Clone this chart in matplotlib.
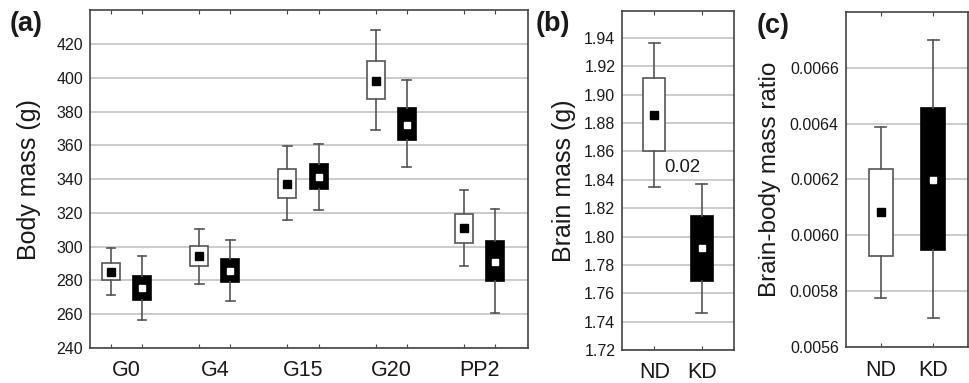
import numpy as np
import matplotlib
matplotlib.use('Agg')
import matplotlib.pyplot as plt

plt.rcParams['font.family'] = ['Liberation Sans', 'DejaVu Sans']

# (a) body mass per stage: ND (white) and KD (black)
stages = ['G0', 'G4', 'G15', 'G20', 'PP2']
nd_whislo = [271.5, 278.0, 315.7, 369.3, 288.8]
nd_q1     = [280.1, 288.4, 329.1, 387.6, 302.4]
nd_mean   = [285.2, 294.5, 337.2, 398.4, 310.8]
nd_q3     = [290.4, 300.6, 346.0, 410.0, 319.5]
nd_whishi = [299.0, 310.6, 359.8, 428.5, 333.6]
kd_whislo = [256.7, 268.1, 322.0, 347.4, 260.5]
kd_q1     = [268.5, 279.0, 334.2, 363.0, 279.9]
kd_mean   = [275.4, 285.8, 341.1, 372.2, 291.0]
kd_q3     = [282.7, 292.5, 348.8, 382.0, 303.5]
kd_whishi = [294.3, 303.7, 360.8, 398.6, 322.6]

# (b) brain mass, (c) brain/body ratio: [ND, KD]
diets = ['ND', 'KD']
brain_whislo = [1.8351, 1.7459]
brain_q1     = [1.8602, 1.7685]
brain_mean   = [1.8856, 1.7918]
brain_q3     = [1.9118, 1.8146]
brain_whishi = [1.9367, 1.8372]
brain_p = '0.02'
ratio_whislo = [0.005775, 0.005704]
ratio_q1     = [0.005927, 0.005948]
ratio_mean   = [0.006083, 0.006197]
ratio_q3     = [0.006238, 0.006456]
ratio_whishi = [0.006387, 0.006699]

EDGE = '#555555'
GRID = '#c8c8c8'
SPINE = '#444444'
TXT = '#1a1a1a'


def stats(lo, q1, mean, q3, hi):
    return [dict(whislo=a, q1=b, med=c, mean=c, q3=d, whishi=e, fliers=[])
            for a, b, c, d, e in zip(lo, q1, mean, q3, hi)]


def draw(ax, st, pos, fills, bw, cw):
    for s, p, f in zip(st, pos, fills):
        inner = 'white' if f == 'black' else 'black'
        ax.bxp([s], positions=[p], widths=bw, capwidths=cw, patch_artist=True,
               showmeans=True, showfliers=False, manage_ticks=False,
               boxprops=dict(facecolor=f, edgecolor=EDGE if f == 'white' else 'black', linewidth=1.2),
               whiskerprops=dict(color=EDGE, linewidth=1.2),
               capprops=dict(color=EDGE, linewidth=1.2),
               medianprops=dict(linewidth=0),
               meanprops=dict(marker='s', markersize=5 if f == 'black' else 6,
                              markerfacecolor=inner, markeredgecolor=inner))


def style(ax):
    ax.set_axisbelow(True)
    ax.yaxis.grid(True, color=GRID, linewidth=1.3)
    for sp in ax.spines.values():
        sp.set_color(SPINE)
        sp.set_linewidth(1.2)
    ax.tick_params(axis='y', length=0, labelsize=11.5, labelcolor=TXT, pad=5)
    ax.tick_params(axis='x', which='major', direction='in', length=3, color=SPINE,
                   top=True, bottom=True)


fig = plt.figure(figsize=(9.69, 3.83), dpi=100)

# panel (a)
ax1 = fig.add_axes([0.0929, 0.0914, 0.4523, 0.8817])
x = np.arange(len(stages))
draw(ax1, stats(nd_whislo, nd_q1, nd_mean, nd_q3, nd_whishi), x - 0.176,
     ['white'] * len(stages), 0.204, 0.10)
draw(ax1, stats(kd_whislo, kd_q1, kd_mean, kd_q3, kd_whishi), x + 0.176,
     ['black'] * len(stages), 0.204, 0.10)
ax1.set_xlim(-0.414, 4.553)
ax1.set_ylim(240, 440)
ax1.set_yticks(np.arange(240, 421, 20))
ax1.set_xticks(np.concatenate([x - 0.176, x + 0.176]))
ax1.set_xticklabels([])
ax1.set_xticks(x, minor=True)
ax1.set_xticklabels(stages, minor=True)
style(ax1)
ax1.tick_params(axis='x', which='minor', length=0, labelsize=15.5, labelcolor=TXT, pad=9)
ax1.set_ylabel('Body mass (g)', fontsize=18, color=TXT, labelpad=11)
fig.text(0.010, 0.938, '(a)', fontsize=19.5, fontweight='bold', color=TXT, va='center')

# panel (b)
ax2 = fig.add_axes([0.6422, 0.0862, 0.1156, 0.8851])
draw(ax2, stats(brain_whislo, brain_q1, brain_mean, brain_q3, brain_whishi), [0, 1],
     ['white', 'black'], 0.46, 0.23)
ax2.set_xlim(-0.675, 1.69)
ax2.set_ylim(1.72, 1.959)
ax2.set_yticks(np.arange(1.72, 1.945, 0.02))
ax2.yaxis.set_major_formatter(matplotlib.ticker.FormatStrFormatter('%.2f'))
ax2.set_xticks([0, 1])
ax2.set_xticklabels(diets)
style(ax2)
ax2.tick_params(axis='x', labelsize=15.5, labelcolor=TXT, pad=9)
ax2.set_ylabel('Brain mass (g)', fontsize=18, color=TXT, labelpad=6)
ax2.text(0.584, 1.849, brain_p, fontsize=13.3, color=TXT, ha='center', va='center')
fig.text(0.553, 0.937, '(b)', fontsize=19.5, fontweight='bold', color=TXT, va='center')

# panel (c)
ax3 = fig.add_axes([0.8728, 0.0932, 0.1259, 0.8763])
draw(ax3, stats(ratio_whislo, ratio_q1, ratio_mean, ratio_q3, ratio_whishi), [0, 1],
     ['white', 'black'], 0.46, 0.21)
ax3.set_xlim(-0.669, 1.663)
ax3.set_ylim(0.0056, 0.0068)
ax3.set_yticks(np.arange(0.0056, 0.00665, 0.0002))
ax3.yaxis.set_major_formatter(matplotlib.ticker.FormatStrFormatter('%.4f'))
ax3.set_xticks([0, 1])
ax3.set_xticklabels(diets)
style(ax3)
ax3.tick_params(axis='x', labelsize=15.5, labelcolor=TXT, pad=9)
ax3.set_ylabel('Brain-body mass ratio', fontsize=17.5, color=TXT, labelpad=6)
fig.text(0.781, 0.933, '(c)', fontsize=19.5, fontweight='bold', color=TXT, va='center')

fig.savefig('out.png', dpi=100)
